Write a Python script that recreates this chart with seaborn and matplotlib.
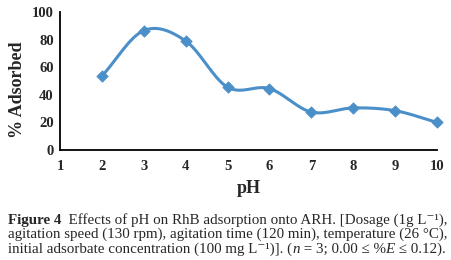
import numpy as np
import pandas as pd
import matplotlib
matplotlib.use("Agg")
import matplotlib.pyplot as plt
import seaborn as sns

# data
ph = [2, 3, 4, 5, 6, 7, 8, 9, 10]
adsorbed = [53.5, 86.5, 79.0, 45.5, 44.5, 27.5, 30.5, 28.5, 20.0]
x_ticks = [1, 2, 3, 4, 5, 6, 7, 8, 9, 10]
y_ticks = [0, 20, 40, 60, 80, 100]

df = pd.DataFrame({"pH": ph, "ads": adsorbed})

sns.set_style("white")
plt.rcParams["font.family"] = ["Liberation Serif", "DejaVu Serif"]

color = "#4b8fc9"


def smooth(xs, ys, n=30):
    # Catmull-Rom style smoothing like a spreadsheet "smoothed line"
    xs = np.asarray(xs, float)
    ys = np.asarray(ys, float)
    px = np.concatenate([[2 * xs[0] - xs[1]], xs, [2 * xs[-1] - xs[-2]]])
    py = np.concatenate([[2 * ys[0] - ys[1]], ys, [2 * ys[-1] - ys[-2]]])
    outx, outy = [], []
    for i in range(1, len(px) - 2):
        t = np.linspace(0, 1, n)
        for p, out in ((px, outx), (py, outy)):
            p0, p1, p2, p3 = p[i - 1], p[i], p[i + 1], p[i + 2]
            out.extend(0.5 * ((2 * p1) + (-p0 + p2) * t
                              + (2 * p0 - 5 * p1 + 4 * p2 - p3) * t ** 2
                              + (-p0 + 3 * p1 - 3 * p2 + p3) * t ** 3))
    return np.array(outx), np.array(outy)


fig = plt.figure(figsize=(4.51, 2.60), dpi=100)
ax = fig.add_axes([0.133, 0.423, 0.836, 0.531])

sx, sy = smooth(df["pH"], df["ads"])
ax.plot(sx, sy, color=color, lw=2.2, zorder=2, clip_on=False)
sns.scatterplot(data=df, x="pH", y="ads", marker="D", s=34, color=color,
                edgecolor=color, linewidth=0.5, ax=ax, zorder=3, clip_on=False)

ax.set_xlim(1, 10)
ax.set_ylim(0, 100)
ax.set_xticks(x_ticks)
ax.set_yticks(y_ticks)
ax.tick_params(axis="y", direction="out", length=3, width=1.2,
               labelsize=10.5, pad=1.5)
ax.tick_params(axis="x", direction="out", length=4.5, width=1.2,
               labelsize=10.5, pad=2.5)
for lab in ax.get_xticklabels() + ax.get_yticklabels():
    lab.set_fontweight("bold")

sns.despine(ax=ax)
for s in ["left", "bottom"]:
    ax.spines[s].set_linewidth(1.3)
    ax.spines[s].set_color("black")

ax.set_xlabel("pH", fontsize=13, fontweight="bold", labelpad=5)
ax.set_ylabel("% Adsorbed", fontsize=13, fontweight="bold")
ax.yaxis.set_label_coords(-0.09, 0.44)

# caption, built from pieces so bold / italic parts sit on one line
cap = 10.8


def chain(y, pieces):
    prev = None
    for txt, kw in pieces:
        if prev is None:
            prev = fig.text(0.018, y, txt, fontsize=cap, ha="left", va="bottom", **kw)
        else:
            prev = plt.annotate(txt, xy=(1, 0), xycoords=prev, fontsize=cap,
                                ha="left", va="bottom", annotation_clip=False, **kw)


chain(0.128, [("Figure 4", {"fontweight": "bold"}),
              ("  Effects of pH on RhB adsorption onto ARH. [Dosage (1g L⁻¹),", {})])
chain(0.072, [("agitation speed (130 rpm), agitation time (120 min), temperature (26 °C),", {})])
chain(0.016, [("initial adsorbate concentration (100 mg L⁻¹)]. (", {}),
              ("n", {"style": "italic"}),
              (" = 3; 0.00 ≤ %", {}),
              ("E", {"style": "italic"}),
              (" ≤ 0.12).", {})])

fig.savefig("out.png", dpi=100)
